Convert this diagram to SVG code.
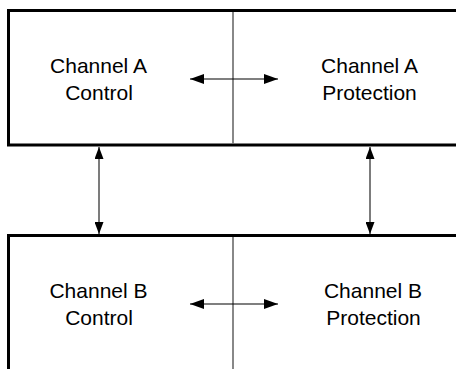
<svg xmlns="http://www.w3.org/2000/svg" width="456" height="369" viewBox="0 0 456 369">
<defs>
<style>
.frame{fill:none;stroke:#000;stroke-width:3}
.div{stroke:#606060;stroke-width:1.5}
.lbl{font-family:"Liberation Sans",Arial,sans-serif;font-size:21px;fill:#000;text-anchor:middle}
.h{stroke:#000;stroke-width:1.2;fill:none}
.v{stroke:#505050;stroke-width:1.5;fill:none}
</style>
<marker id="ah" viewBox="0 0 14 10" refX="14" refY="5" markerWidth="14" markerHeight="10" markerUnits="userSpaceOnUse" orient="auto-start-reverse">
<path d="M0,0 L14,5 L0,10 Z" fill="#000"/>
</marker>
<marker id="av" viewBox="0 0 12 9" refX="12" refY="4.5" markerWidth="12" markerHeight="9" markerUnits="userSpaceOnUse" orient="auto-start-reverse">
<path d="M0,0 L12,4.5 L0,9 Z" fill="#000"/>
</marker>
</defs>
<rect width="456" height="369" fill="#fff"/>
<g id="channelA">
<path class="frame" d="M460,10.5 H8.5 V145 H460"/>
<line class="div" x1="233" y1="12" x2="233" y2="143.5"/>
<g id="channelA-control"><text class="lbl" x="98.5" y="72.5">Channel A</text><text class="lbl" x="99" y="100">Control</text></g>
<g id="channelA-protection"><text class="lbl" x="369.5" y="72.5">Channel A</text><text class="lbl" x="369.5" y="100">Protection</text></g>
</g>
<g id="channelB">
<path class="frame" d="M460,235.5 H8.5 V372"/>
<line class="div" x1="233" y1="237" x2="233" y2="369"/>
<g id="channelB-control"><text class="lbl" x="98.5" y="297.5">Channel B</text><text class="lbl" x="99" y="325">Control</text></g>
<g id="channelB-protection"><text class="lbl" x="373" y="297.5">Channel B</text><text class="lbl" x="373.5" y="325">Protection</text></g>
</g>
<g id="connectors">
<line class="h" x1="190" y1="79" x2="278" y2="79" marker-start="url(#ah)" marker-end="url(#ah)"/>
<line class="h" x1="190" y1="304" x2="278" y2="304" marker-start="url(#ah)" marker-end="url(#ah)"/>
<line class="v" x1="99" y1="147" x2="99" y2="234" marker-start="url(#av)" marker-end="url(#av)"/>
<line class="v" x1="370" y1="147" x2="370" y2="234" marker-start="url(#av)" marker-end="url(#av)"/>
</g>
</svg>
